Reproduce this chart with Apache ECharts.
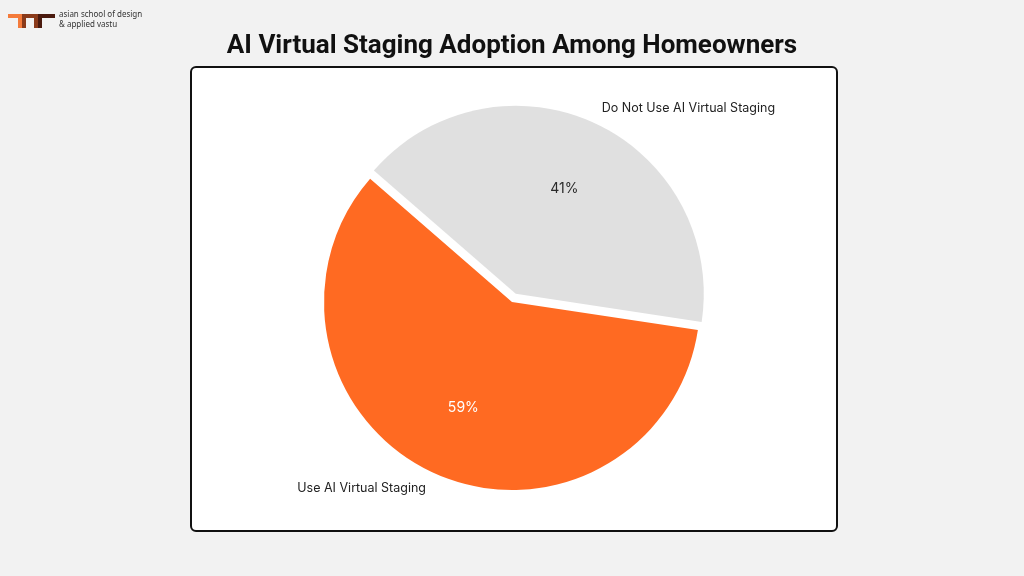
<!DOCTYPE html>
<html><head><meta charset="utf-8">
<script src="https://cdn.jsdelivr.net/npm/echarts@6/dist/echarts.min.js"></script>
<style>html,body{margin:0;padding:0;background:#f2f2f2}#c{width:1024px;height:576px}</style>
</head><body><div id="c"></div>
<script>
const categories = ['Do Not Use AI Virtual Staging', 'Use AI Virtual Staging'];
const values = [41, 59];
const sliceColors = ['#e0e0e0', '#ff6a22'];
const valueLabelColors = ['#2a2a2a', '#ffffff'];
const titleText = 'AI Virtual Staging Adoption Among Homeowners';
const logoLines = ['asian school of design', '& applied vastu'];

const chart = echarts.init(document.getElementById('c'), null, {renderer: 'canvas'});

const baseData = categories.map((name, i) => ({
  name, value: values[i], selected: i === 0,
  itemStyle: {color: sliceColors[i]}
}));
const overlayData = categories.map((name, i) => ({
  name, value: values[i], selected: i === 0,
  itemStyle: {color: 'rgba(0,0,0,0)'},
  label: {color: valueLabelColors[i]}
}));

const common = {
  type: 'pie', center: [512, 302], startAngle: 139, clockwise: true,
  selectedMode: 'single', selectedOffset: 9, avoidLabelOverlap: false,
  animation: false, emphasis: {disabled: true}, silent: true
};

chart.setOption({
  backgroundColor: '#f2f2f2',
  title: {
    text: titleText, left: 'center', top: 28,
    textStyle: {fontFamily: 'Roboto', fontWeight: 'bold', fontSize: 26, color: '#111'}
  },
  graphic: [
    {type: 'rect', z: -1, shape: {x: 191, y: 67, width: 646, height: 464, r: 5},
     style: {fill: '#ffffff', stroke: '#111111', lineWidth: 2}},
    {type: 'polyline', shape: {points: [[8, 16], [20, 16], [20, 28]]}, style: {stroke: '#f47b3b', lineWidth: 4, fill: null}},
    {type: 'polyline', shape: {points: [[24, 28], [24, 16], [36, 16], [36, 28]]}, style: {stroke: '#8a3a1a', lineWidth: 4, fill: null}},
    {type: 'polyline', shape: {points: [[40, 28], [40, 16], [55, 16]]}, style: {stroke: '#4a1a0e', lineWidth: 4, fill: null}},
    {type: 'text', x: 59, y: 10, style: {text: logoLines.join('\n'), fontFamily: 'Noto Sans', fontSize: 8, lineHeight: 10, fill: '#333'}}
  ],
  series: [
    Object.assign({}, common, {
      radius: [0, 188],
      data: baseData,
      label: {show: true, position: 'outside', formatter: '{b}', fontFamily: 'Inter', fontSize: 12.5, color: '#222', distanceToLabelLine: 0},
      labelLine: {show: false, length: 17, length2: 0}
    }),
    Object.assign({}, common, {
      radius: [38, 188],
      data: overlayData,
      label: {show: true, position: 'inside', formatter: '{c}%', fontFamily: 'Inter', fontSize: 14},
      labelLine: {show: false}
    })
  ]
});
</script></body></html>
